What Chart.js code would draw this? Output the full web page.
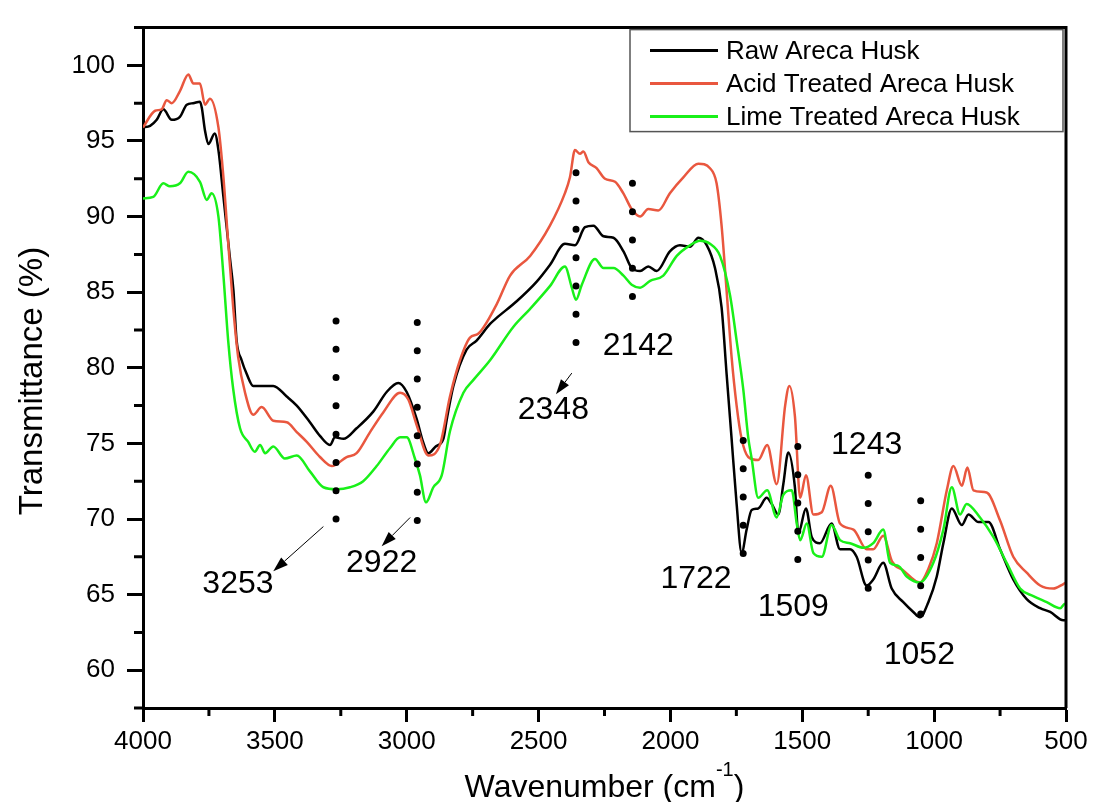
<!DOCTYPE html>
<html>
<head>
<meta charset="utf-8">
<script src="https://cdn.jsdelivr.net/npm/chart.js@4.4.1/dist/chart.umd.min.js"></script>
<style>
  html, body { margin: 0; padding: 0; background: #fff; }
  canvas { display: block; }
</style>
</head>
<body>
<canvas id="ftirChart" width="1093" height="802"></canvas>
<script>
// Spectra: wavenumber (cm-1) -> transmittance (%)
const rawWavenumbers = [4000, 3973, 3948, 3923, 3891, 3860, 3834, 3810, 3784, 3777, 3765, 3752, 3728, 3714, 3695, 3670, 3657, 3645, 3626, 3607, 3582, 3540, 3506, 3455, 3417, 3367, 3329, 3291, 3272, 3240, 3190, 3127, 3076, 3032, 3000, 2962, 2940, 2918, 2890, 2861, 2848, 2823, 2773, 2735, 2684, 2659, 2583, 2507, 2457, 2400, 2362, 2324, 2292, 2254, 2216, 2178, 2147, 2115, 2084, 2052, 2002, 1964, 1926, 1894, 1862, 1831, 1806, 1787, 1768, 1749, 1730, 1711, 1692, 1667, 1635, 1616, 1591, 1572, 1553, 1528, 1515, 1486, 1464, 1433, 1389, 1357, 1319, 1294, 1256, 1231, 1193, 1161, 1117, 1079, 1054, 1022, 990, 965, 933, 895, 870, 832, 794, 750, 700, 649, 598, 560, 510, 500];
const rawTransmittance = [95.9, 96.0, 96.4, 97.1, 96.4, 96.6, 97.4, 97.5, 97.6, 97.2, 95.7, 94.8, 95.5, 94.4, 91.3, 87.2, 85.1, 81.8, 80.5, 79.6, 78.8, 78.8, 78.8, 78.1, 77.5, 76.4, 75.5, 74.9, 75.4, 75.3, 76.0, 77.1, 78.4, 79.0, 78.4, 76.6, 75.2, 74.35, 74.8, 75.3, 76.6, 78.8, 81.2, 81.8, 82.9, 83.3, 84.4, 85.7, 86.8, 88.2, 88.1, 89.3, 89.4, 88.7, 88.6, 87.7, 86.6, 86.4, 86.7, 86.4, 87.7, 88.1, 88.0, 88.6, 88.1, 86.6, 84.0, 79.6, 75.3, 71.0, 67.75, 69.3, 70.6, 70.7, 71.4, 71.0, 70.3, 72.3, 74.4, 72.1, 69.05, 70.7, 68.8, 68.4, 69.7, 68.0, 68.0, 67.5, 65.6, 66.0, 67.1, 65.4, 64.5, 63.85, 63.5, 64.5, 66.2, 68.4, 70.7, 69.6, 70.3, 69.8, 69.8, 68.0, 66.0, 64.7, 64.1, 63.85, 63.3, 63.3];

const acidWavenumbers = [4000, 3954, 3929, 3910, 3891, 3860, 3828, 3809, 3784, 3765, 3746, 3714, 3695, 3677, 3658, 3639, 3613, 3582, 3550, 3506, 3455, 3417, 3379, 3329, 3284, 3228, 3190, 3139, 3089, 3025, 2994, 2962, 2918, 2874, 2836, 2798, 2760, 2729, 2659, 2608, 2532, 2457, 2400, 2381, 2362, 2343, 2330, 2311, 2280, 2248, 2210, 2179, 2147, 2115, 2084, 2046, 2002, 1951, 1894, 1850, 1825, 1806, 1787, 1768, 1749, 1730, 1705, 1667, 1633, 1597, 1565, 1549, 1528, 1508, 1486, 1458, 1426, 1392, 1357, 1306, 1256, 1231, 1193, 1160, 1117, 1054, 1022, 990, 952, 927, 895, 874, 851, 801, 750, 700, 649, 598, 548, 510, 500];
const acidTransmittance = [95.9, 97.0, 97.1, 97.7, 97.5, 98.3, 99.4, 98.8, 98.8, 97.4, 97.8, 95.9, 92.6, 88.3, 84.0, 80.7, 78.35, 76.9, 77.4, 76.5, 76.4, 75.75, 75.1, 74.1, 73.5, 74.1, 74.35, 75.75, 77.05, 78.35, 77.9, 76.2, 74.2, 74.9, 78.1, 80.5, 82.0, 82.25, 84.2, 86.1, 87.4, 89.4, 91.55, 92.6, 94.4, 94.15, 94.3, 93.6, 93.2, 92.5, 92.3, 91.55, 90.5, 90.0, 90.5, 90.4, 91.55, 92.6, 93.5, 93.2, 92.2, 89.4, 85.1, 80.7, 77.5, 75.3, 74.1, 73.9, 74.9, 72.3, 77.5, 78.8, 76.8, 71.4, 72.9, 70.3, 70.45, 72.2, 69.7, 69.3, 68.0, 68.0, 68.9, 67.2, 66.6, 65.8, 66.7, 68.4, 71.9, 73.5, 72.2, 73.4, 71.9, 71.75, 69.9, 67.5, 66.45, 65.6, 65.4, 65.7, 65.8];

const limeWavenumbers = [4000, 3961, 3923, 3898, 3860, 3828, 3784, 3758, 3740, 3714, 3695, 3677, 3658, 3632, 3601, 3576, 3556, 3537, 3506, 3462, 3417, 3367, 3316, 3266, 3215, 3165, 3114, 3063, 3025, 3000, 2969, 2950, 2927, 2899, 2867, 2836, 2785, 2747, 2684, 2596, 2532, 2457, 2400, 2374, 2358, 2336, 2286, 2254, 2216, 2178, 2147, 2115, 2077, 2027, 1976, 1926, 1888, 1850, 1812, 1774, 1749, 1724, 1705, 1692, 1667, 1633, 1597, 1572, 1540, 1521, 1508, 1483, 1458, 1426, 1389, 1357, 1319, 1268, 1231, 1193, 1167, 1136, 1104, 1054, 1003, 965, 933, 902, 877, 826, 775, 725, 674, 624, 573, 522, 504, 500];
const limeTransmittance = [91.2, 91.3, 92.2, 92.0, 92.2, 92.96, 92.3, 91.1, 91.55, 90.0, 86.1, 81.8, 78.6, 76.0, 75.1, 74.45, 74.9, 74.35, 74.8, 74.0, 74.2, 73.15, 72.1, 71.97, 72.1, 72.5, 73.5, 74.7, 75.4, 75.4, 74.0, 72.9, 71.1, 72.1, 72.9, 75.8, 78.35, 79.2, 80.5, 82.7, 83.9, 85.4, 86.7, 85.3, 84.5, 85.5, 87.2, 86.6, 86.6, 86.1, 85.5, 85.3, 85.75, 86.1, 87.4, 88.1, 88.4, 88.2, 87.4, 84.8, 81.8, 78.6, 75.4, 74.0, 71.4, 71.9, 70.1, 71.6, 71.9, 69.7, 68.6, 69.7, 67.75, 67.5, 69.6, 68.6, 68.4, 68.1, 68.4, 69.3, 67.1, 66.9, 66.2, 65.8, 67.1, 69.3, 72.1, 70.3, 71.0, 70.1, 68.8, 67.1, 65.4, 64.9, 64.5, 64.1, 64.4, 64.4];

const seriesNames = ["Raw Areca Husk", "Acid Treated Areca Husk", "Lime Treated Areca Husk"];

// Axis ticks
const xTickValues = [4000, 3500, 3000, 2500, 2000, 1500, 1000, 500];
const xMinorValues = [3750, 3250, 2750, 2250, 1750, 1250, 750];
const yTickValues = [60, 65, 70, 75, 80, 85, 90, 95, 100];
const yMinorValues = [57.5, 62.5, 67.5, 72.5, 77.5, 82.5, 87.5, 92.5, 97.5, 102.5];

// Peak markers (data units): dotted line, label position, optional arrow
const peakLabels = ["3253", "2922", "2348", "2142", "1722", "1509", "1243", "1052"];
const peakWavenumbers = [3268, 2960, 2358, 2144, 1724, 1517, 1250, 1051];
const peakLineTop = [83.1, 83.0, 92.9, 92.2, 75.2, 74.8, 72.9, 71.2];
const peakLineBottom = [68.3, 68.2, 79.9, 82.9, 66.0, 65.6, 63.7, 62.0];
const peakLabelWavenumbers = [3640, 3095, 2444, 2122, 1903, 1534, 1256, 1056];
const peakLabelTransmittance = [65.7, 67.1, 77.2, 81.4, 66.0, 64.2, 74.9, 61.0];
// [fromWavenumber, fromT, toWavenumber, toT]
const peakArrows = [[3316, 69.5, 3506, 66.55], [2987, 70.1, 3095, 68.2], [2374, 79.65, 2434, 78.25], null, null, null, null, null];

const FONT = "'Liberation Sans', Arial, sans-serif";
const colors = ["#000000", "#E9573F", "#19F019"];

Chart.defaults.font.family = FONT;
Chart.defaults.color = "#000";

const toPoints = (xs, ys) => xs.map((x, i) => ({ x: x, y: ys[i] }));

const spectra = [
  { label: seriesNames[0], data: toPoints(rawWavenumbers, rawTransmittance), borderColor: colors[0], order: 3 },
  { label: seriesNames[1], data: toPoints(acidWavenumbers, acidTransmittance), borderColor: colors[1], order: 2 },
  { label: seriesNames[2], data: toPoints(limeWavenumbers, limeTransmittance), borderColor: colors[2], order: 1 },
].map(d => Object.assign(d, { borderWidth: 2.5, pointRadius: 0, cubicInterpolationMode: "monotone", borderJoinStyle: "round", fill: false }));

// dotted guide lines, as two-point datasets drawn with round dots
const guides = peakWavenumbers.map((wn, i) => ({
  label: "peak " + peakLabels[i],
  data: [{ x: wn, y: peakLineTop[i] }, { x: wn, y: peakLineBottom[i] }],
  borderColor: "#000",
  borderWidth: 7,
  borderDash: [0, 28.3],
  borderCapStyle: "round",
  pointRadius: 0,
  order: 0,
  clip: false,
}));

// frame, minor ticks, legend, axis titles, peak labels and arrows
const decorations = {
  id: "decorations",
  afterDraw(chart) {
    const { ctx, chartArea: area, scales: { x, y } } = chart;
    ctx.save();
    ctx.strokeStyle = "#000";
    ctx.lineCap = "butt";

    // top and right frame
    ctx.lineWidth = 3;
    ctx.beginPath();
    ctx.moveTo(area.left, area.top);
    ctx.lineTo(area.right, area.top);
    ctx.lineTo(area.right, area.bottom);
    ctx.stroke();

    // minor ticks
    ctx.beginPath();
    xMinorValues.forEach(v => {
      const px = x.getPixelForValue(v);
      ctx.moveTo(px, area.bottom);
      ctx.lineTo(px, area.bottom + 8);
    });
    yMinorValues.forEach(v => {
      const py = y.getPixelForValue(v);
      ctx.moveTo(area.left - 9, py);
      ctx.lineTo(area.left, py);
    });
    ctx.stroke();

    // peak labels and arrows
    ctx.fillStyle = "#000";
    ctx.font = "32px " + FONT;
    ctx.textAlign = "center";
    ctx.textBaseline = "middle";
    peakLabels.forEach((txt, i) => {
      ctx.fillText(txt, x.getPixelForValue(peakLabelWavenumbers[i]), y.getPixelForValue(peakLabelTransmittance[i]));
      const a = peakArrows[i];
      if (!a) return;
      const x1 = x.getPixelForValue(a[0]), y1 = y.getPixelForValue(a[1]);
      const x2 = x.getPixelForValue(a[2]), y2 = y.getPixelForValue(a[3]);
      const ang = Math.atan2(y2 - y1, x2 - x1);
      const head = 15, half = 5;
      ctx.lineWidth = 1;
      ctx.beginPath();
      ctx.moveTo(x1, y1);
      ctx.lineTo(x2 - head * Math.cos(ang), y2 - head * Math.sin(ang));
      ctx.stroke();
      ctx.beginPath();
      ctx.moveTo(x2, y2);
      ctx.lineTo(x2 - head * Math.cos(ang) + half * Math.sin(ang), y2 - head * Math.sin(ang) - half * Math.cos(ang));
      ctx.lineTo(x2 - head * Math.cos(ang) - half * Math.sin(ang), y2 - head * Math.sin(ang) + half * Math.cos(ang));
      ctx.closePath();
      ctx.fill();
    });

    // legend box
    const boxL = area.right - 436, boxT = area.top + 2, boxW = 433, boxH = 102;
    ctx.fillStyle = "#fff";
    ctx.fillRect(boxL, boxT, boxW, boxH);
    ctx.strokeStyle = "#555";
    ctx.lineWidth = 1.5;
    ctx.strokeRect(boxL, boxT, boxW, boxH);
    ctx.font = "26px " + FONT;
    ctx.textAlign = "left";
    ctx.textBaseline = "middle";
    seriesNames.forEach((name, i) => {
      const rowY = boxT + 21 + i * 33;
      ctx.strokeStyle = colors[i];
      ctx.lineWidth = 3;
      ctx.beginPath();
      ctx.moveTo(boxL + 20, rowY);
      ctx.lineTo(boxL + 88, rowY);
      ctx.stroke();
      ctx.fillStyle = "#000";
      ctx.fillText(name, boxL + 96, rowY + 1);
    });

    // y axis title
    ctx.fillStyle = "#000";
    ctx.save();
    ctx.translate(42, 381);
    ctx.rotate(-Math.PI / 2);
    ctx.font = "33px " + FONT;
    ctx.textAlign = "center";
    ctx.textBaseline = "alphabetic";
    ctx.fillText("Transmittance (%)", 0, 0);
    ctx.restore();

    // x axis title with superscript
    const main = "Wavenumber (cm", sup = "-1", tail = ")";
    ctx.textBaseline = "alphabetic";
    ctx.textAlign = "left";
    ctx.font = "32px " + FONT;
    const wMain = ctx.measureText(main).width, wTail = ctx.measureText(tail).width;
    ctx.font = "20px " + FONT;
    const wSup = ctx.measureText(sup).width;
    let tx = (area.left + area.right) / 2 - (wMain + wSup + wTail) / 2;
    const base = 797;
    ctx.font = "32px " + FONT;
    ctx.fillText(main, tx, base);
    tx += wMain;
    ctx.font = "20px " + FONT;
    ctx.fillText(sup, tx, base - 21);
    tx += wSup;
    ctx.font = "32px " + FONT;
    ctx.fillText(tail, tx, base);
    ctx.restore();
  }
};

new Chart(document.getElementById("ftirChart"), {
  type: "line",
  data: { datasets: spectra.concat(guides) },
  options: {
    responsive: false,
    animation: false,
    events: [],
    layout: { padding: { top: 15, right: 27, left: 0, bottom: 0 } },
    plugins: { legend: { display: false }, tooltip: { enabled: false } },
    scales: {
      x: {
        type: "linear",
        min: 500,
        max: 4000,
        reverse: true,
        afterBuildTicks: s => { s.ticks = xTickValues.map(v => ({ value: v })); },
        afterFit: s => { s.height = 94; },
        ticks: { font: { size: 26 }, color: "#000", padding: 4, maxRotation: 0, autoSkip: false, callback: v => String(v) },
        grid: { drawOnChartArea: false, drawTicks: true, tickLength: 14, tickWidth: 3, tickColor: "#000" },
        border: { width: 3, color: "#000" },
      },
      y: {
        min: 57.5,
        max: 102.5,
        afterBuildTicks: s => { s.ticks = yTickValues.map(v => ({ value: v })); },
        afterFit: s => { s.width = 143; },
        ticks: { font: { size: 26 }, color: "#000", padding: 12, callback: v => String(v) },
        grid: { drawOnChartArea: false, drawTicks: true, tickLength: 16, tickWidth: 3, tickColor: "#000" },
        border: { width: 3, color: "#000" },
      },
    },
  },
  plugins: [decorations],
});
</script>
</body>
</html>
